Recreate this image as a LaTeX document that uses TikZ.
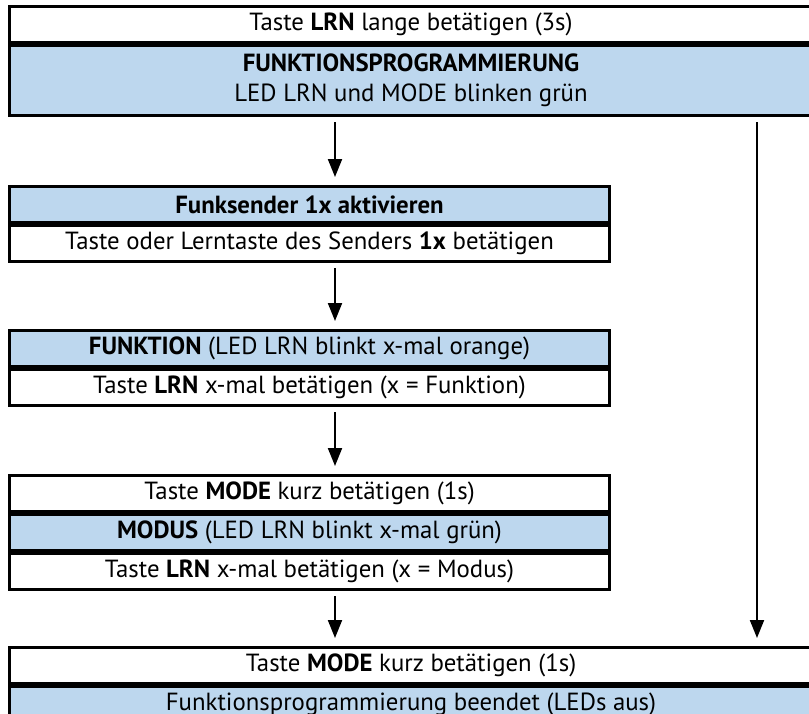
\documentclass[tikz,border=0pt]{standalone}
\usepackage{fontspec}
\setmainfont{PT Sans}
\usetikzlibrary{positioning,arrows.meta}
\definecolor{rowblue}{RGB}{189,215,238}
\def\wide{401.5pt}
\def\narrow{300pt}
\tikzstyle{row}=[draw,line width=1.5pt,fill=white,minimum height=18pt,inner sep=0pt,align=center,font=\fontsize{12.4}{15}\selectfont]
\tikzstyle{blue-row}=[row,fill=rowblue]
\tikzstyle{flow}=[draw,line width=1pt,-{Triangle[width=7pt,length=9pt]},shorten <=2.5pt,shorten >=4pt]

\begin{document}
\begin{tikzpicture}[x=0.5pt,y=-0.5pt]
  \useasboundingbox (0,0) rectangle (809,713);

  % First the rows of every box
  \node[row,minimum width=\wide,anchor=north west] (start) at (8,5) {Taste \textbf{LRN} lange betätigen (3s)};
  \node[blue-row,minimum width=\wide,minimum height=35pt,below=0pt of start] (prog) {\textbf{FUNKTIONSPROGRAMMIERUNG}\\LED LRN und MODE blinken grün};

  \node[blue-row,minimum width=\narrow,anchor=north west] (sendhead) at (8,185) {\textbf{Funksender 1x aktivieren}};
  \node[row,minimum width=\narrow,below=0pt of sendhead] (send) {Taste oder Lerntaste des Senders \textbf{1x} betätigen};

  \node[blue-row,minimum width=\narrow,anchor=north west] (funchead) at (8,329) {\textbf{FUNKTION} (LED LRN blinkt x-mal orange)};
  \node[row,minimum width=\narrow,below=0pt of funchead] (func) {Taste \textbf{LRN} x-mal betätigen (x = Funktion)};

  \node[row,minimum width=\narrow,anchor=north west] (modekey) at (8,474) {Taste \textbf{MODE} kurz betätigen (1s)};
  \node[blue-row,minimum width=\narrow,below=0pt of modekey] (modehead) {\textbf{MODUS} (LED LRN blinkt x-mal grün)};
  \node[row,minimum width=\narrow,below=0pt of modehead] (mode) {Taste \textbf{LRN} x-mal betätigen (x = Modus)};

  \node[row,minimum width=\wide,anchor=north west] (endkey) at (8,646) {Taste \textbf{MODE} kurz betätigen (1s)};
  \node[blue-row,minimum width=\wide,below=0pt of endkey] (done) {Funktionsprogrammierung beendet (LEDs aus)};

  % Lanes of the arrows
  \coordinate (lane) at (335,0);
  \coordinate (side) at (757,0);

  % Connect the boxes
  \foreach \source/\dest in {prog/sendhead, send/funchead, func/modekey, mode/endkey}
    \path[flow] (\source.south -| lane) -- (\dest.north -| lane);

  % The short way out
  \path[flow] (prog.south -| side) -- (endkey.north -| side);
\end{tikzpicture}
\end{document}
